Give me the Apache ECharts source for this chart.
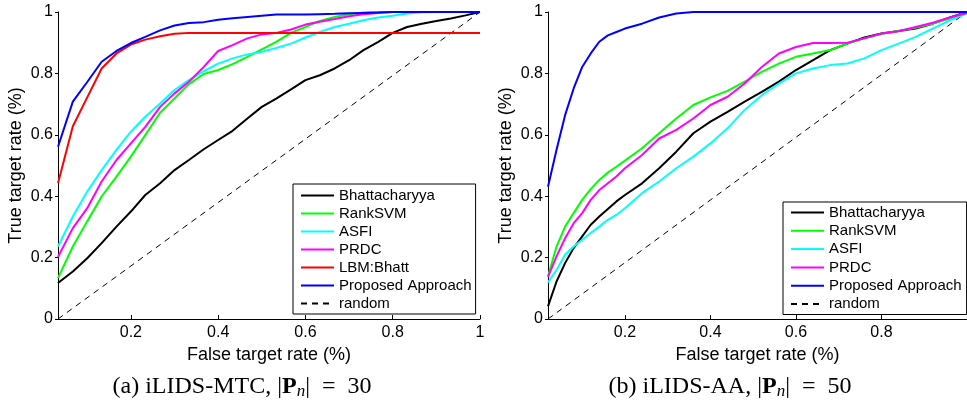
<!DOCTYPE html>
<html><head><meta charset="utf-8">
<script src="https://cdn.jsdelivr.net/npm/echarts@6/dist/echarts.min.js"></script>
<style>html,body{margin:0;padding:0;background:#fff}#c{width:967px;height:402px}</style>
</head><body><div id="c"></div>
<script>
// ---- Data ----
const seriesNamesL = ['Bhattacharyya','RankSVM','ASFI','PRDC','LBM:Bhatt','Proposed Approach','random'];
const seriesNamesR = ['Bhattacharyya','RankSVM','ASFI','PRDC','Proposed Approach','random'];

const xLeft = [0.033,0.067,0.1,0.133,0.167,0.2,0.233,0.267,0.3,0.333,0.367,0.4,0.433,0.467,0.5,0.533,0.567,0.6,0.633,0.667,0.7,0.733,0.767,0.8,0.833,0.867,0.9,0.933,0.967,1.0];
const bhattL = [0.117,0.155,0.198,0.247,0.301,0.350,0.404,0.442,0.485,0.518,0.553,0.583,0.613,0.653,0.691,0.718,0.748,0.778,0.794,0.816,0.843,0.876,0.903,0.932,0.951,0.962,0.971,0.979,0.989,1.0];
const rankL  = [0.133,0.236,0.318,0.399,0.464,0.529,0.599,0.672,0.718,0.765,0.798,0.811,0.830,0.854,0.878,0.903,0.932,0.951,0.971,0.984,0.993,0.998,1,1,1,1,1,1,1,1];
const asfiL  = [0.236,0.334,0.415,0.485,0.551,0.610,0.659,0.702,0.746,0.778,0.807,0.832,0.849,0.862,0.870,0.883,0.897,0.917,0.935,0.951,0.962,0.973,0.982,0.988,0.995,0.999,1,1,1,1];
const prdcL  = [0.202,0.296,0.361,0.448,0.518,0.572,0.626,0.691,0.735,0.773,0.821,0.873,0.892,0.914,0.927,0.932,0.943,0.959,0.968,0.977,0.986,0.993,0.997,1,1,1,1,1,1,1];
const lbmL   = [0.442,0.628,0.722,0.816,0.865,0.894,0.910,0.921,0.929,0.932,0.932,0.932,0.932,0.932,0.932,0.932,0.932,0.932,0.932,0.932,0.932,0.932,0.932,0.932,0.932,0.932,0.932,0.932,0.932,0.932];
const propL  = [0.561,0.708,0.772,0.838,0.873,0.899,0.919,0.940,0.956,0.964,0.967,0.975,0.980,0.984,0.988,0.992,0.992,0.992,0.993,0.994,0.996,0.997,0.998,1,1,1,1,1,1,1];
const randX_L = [0.033,1.0];
const randY_L = [0,1];

const xRight = [0.02,0.04,0.06,0.08,0.1,0.12,0.14,0.16,0.18,0.2,0.24,0.28,0.32,0.36,0.4,0.44,0.48,0.52,0.56,0.6,0.64,0.68,0.72,0.76,0.8,0.84,0.88,0.92,0.96,1.0];
const bhattR = [0.041,0.122,0.182,0.231,0.269,0.307,0.334,0.358,0.383,0.404,0.442,0.491,0.545,0.605,0.643,0.675,0.708,0.740,0.773,0.811,0.843,0.876,0.897,0.917,0.930,0.938,0.946,0.962,0.982,1.0];
const rankR  = [0.139,0.236,0.301,0.345,0.388,0.423,0.453,0.477,0.496,0.516,0.556,0.605,0.653,0.697,0.722,0.743,0.773,0.805,0.832,0.854,0.865,0.876,0.897,0.914,0.928,0.938,0.949,0.962,0.979,1.0];
const asfiR  = [0.119,0.160,0.209,0.236,0.258,0.280,0.301,0.323,0.339,0.361,0.410,0.448,0.491,0.529,0.572,0.621,0.681,0.729,0.767,0.800,0.816,0.827,0.832,0.849,0.876,0.897,0.919,0.946,0.973,0.995];
const prdcR  = [0.137,0.204,0.263,0.312,0.345,0.388,0.420,0.442,0.464,0.491,0.534,0.588,0.616,0.653,0.697,0.724,0.767,0.821,0.865,0.886,0.899,0.899,0.900,0.914,0.930,0.937,0.951,0.965,0.982,0.997];
const propR  = [0.431,0.551,0.664,0.751,0.821,0.865,0.903,0.924,0.935,0.946,0.962,0.982,0.995,1,1,1,1,1,1,1,1,1,1,1,1,1,1,1,1,1];
const randX_R = [0.02,1.0];
const randY_R = [0,1];

const xTicksL = [0.2,0.4,0.6,0.8,1];
const xTicksR = [0.2,0.4,0.6,0.8];
const captionL = '(a) iLIDS-MTC, |{b|P}{s|n}|{sp| }={sp| }30';
const captionR = '(b) iLIDS-AA, |{b|P}{s|n}|{sp| }={sp| }50';

// ---- Chart ----
const SANS = '"Liberation Sans", Arial, Helvetica, sans-serif';
const SERIF = '"Liberation Serif", "Times New Roman", serif';
const colors = {'Bhattacharyya':'#000000','RankSVM':'#00ff00','ASFI':'#00ffff','PRDC':'#ff00ff','LBM:Bhatt':'#ff0000','Proposed Approach':'#0000ff','random':'#000000'};

function zip(xs, ys){ return xs.map((x,i)=>[x, ys[i]]); }

function mkSeries(name, xs, ys, idx){
  const dashed = name === 'random';
  return {
    type:'line', name, xAxisIndex:idx, yAxisIndex:idx,
    data: zip(xs, ys), symbol:'none', showSymbol:false, silent:true,
    color: colors[name],
    lineStyle:{color: colors[name], width: dashed ? 1 : 2, type: dashed ? [6,5] : 'solid'},
    z: dashed ? 1 : 2
  };
}

function mkX(idx, min, max, ticks){
  return {
    type:'value', gridIndex:idx, min, max,
    axisLine:{show:true, onZero:false, lineStyle:{color:'#000', width:1}},
    axisTick:{show:true, inside:true, length:4, customValues:ticks, lineStyle:{color:'#000'}},
    axisLabel:{customValues:ticks, color:'#000', fontSize:16, fontFamily:SANS, margin:6},
    splitLine:{show:false},
    name:'False target rate (%)', nameLocation:'middle', nameGap:18,
    nameTextStyle:{color:'#000', fontSize:18, fontFamily:SANS}
  };
}
function mkY(idx){
  return {
    type:'value', gridIndex:idx, min:0, max:1, interval:0.2,
    axisLine:{show:true, onZero:false, lineStyle:{color:'#000', width:1}},
    axisTick:{show:true, inside:false, length:3, lineStyle:{color:'#000'}},
    axisLabel:{color:'#000', fontSize:16, fontFamily:SANS, margin:5},
    splitLine:{show:false},
    name:'True target rate (%)', nameLocation:'middle', nameGap:33,
    nameTextStyle:{color:'#000', fontSize:18, fontFamily:SANS}
  };
}
function mkLegend(names, left, top, gap, padding){
  return {
    data:names, orient:'vertical', left, top, itemWidth:33, itemHeight:14, itemGap:gap,
    padding, borderColor:'#000', borderWidth:1, backgroundColor:'#fff',
    itemStyle:{opacity:0},
    selectedMode:false, textStyle:{color:'#000', fontSize:15, fontFamily:SANS}
  };
}
function mkCaption(text, cx){
  return {
    type:'text', x:cx, y:387, silent:true,
    style:{
      text, align:'center', verticalAlign:'middle', fill:'#000',
      fontSize:24, fontFamily:SERIF, lineHeight:27,
      rich:{
        b:{fontWeight:'bold', fontSize:24, fontFamily:SERIF, fill:'#000', lineHeight:27},
        s:{fontStyle:'italic', fontSize:17, fontFamily:SERIF, fill:'#000', verticalAlign:'bottom', lineHeight:17},
        sp:{fontSize:24, fontFamily:SERIF, fill:'#000', lineHeight:27, padding:[0,3,0,3]}
      }
    }
  };
}

const chart = echarts.init(document.getElementById('c'), null, {renderer:'canvas'});
const seriesL = [bhattL, rankL, asfiL, prdcL, lbmL, propL];
const seriesR = [bhattR, rankR, asfiR, prdcR, propR];
const series = [];
seriesNamesL.slice(0,6).forEach((n,i)=>series.push(mkSeries(n, xLeft, seriesL[i], 0)));
series.push(mkSeries('random', randX_L, randY_L, 0));
seriesNamesR.slice(0,5).forEach((n,i)=>series.push(mkSeries(n, xRight, seriesR[i], 1)));
series.push(mkSeries('random', randX_R, randY_R, 1));

chart.setOption({
  animation:false,
  backgroundColor:'#fff',
  grid:[
    {left:58, top:12, right:487, bottom:83, containLabel:false},
    {left:548, top:12, right:-2, bottom:83, containLabel:false}
  ],
  xAxis:[mkX(0, 0.033, 1, xTicksL), mkX(1, 0.02, 1, xTicksR)],
  yAxis:[mkY(0), mkY(1)],
  legend:[
    mkLegend(seriesNamesL, 293, 184, 3, [4,4,3,7]),
    mkLegend(seriesNamesR, 783, 202, 3.3, [3,5,3,7])
  ],
  graphic:[mkCaption(captionL, 242), mkCaption(captionR, 730)],
  series
});
</script></body></html>
